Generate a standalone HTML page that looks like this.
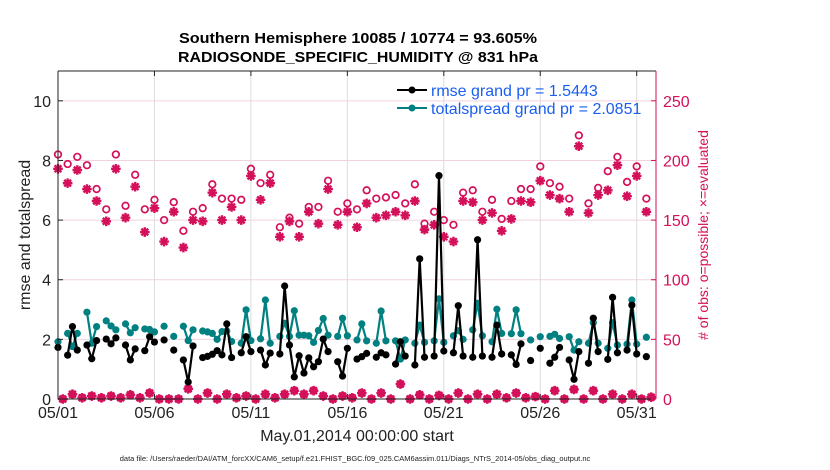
<!DOCTYPE html>
<html><head><meta charset="utf-8"><style>
html,body{margin:0;padding:0;background:#fff;}
svg{display:block;font-family:"Liberation Sans",Arial,sans-serif;}
</style></head><body>
<svg id="chart" width="830" height="470" viewBox="0 0 830 470" xmlns="http://www.w3.org/2000/svg">
<g>
<text x="358" y="43" text-anchor="middle" font-size="15" font-weight="bold" textLength="358" lengthAdjust="spacingAndGlyphs">Southern Hemisphere 10085 / 10774 = 93.605%</text>
<text x="358" y="62" text-anchor="middle" font-size="15" font-weight="bold" textLength="360" lengthAdjust="spacingAndGlyphs">RADIOSONDE_SPECIFIC_HUMIDITY @ 831 hPa</text>
</g>
<g id="grid"></g>
<g id="marks"></g>
<g id="axes"></g>
<text x="357" y="441" text-anchor="middle" font-size="16" fill="#222">May.01,2014 00:00:00 start</text>
<text transform="translate(30,235) rotate(-90)" text-anchor="middle" font-size="16" fill="#222">rmse and totalspread</text>
<text transform="translate(708,235) rotate(-90)" text-anchor="middle" font-size="14" fill="#d4105a"># of obs: o=possible; ×=evaluated</text>
<text x="355" y="461" text-anchor="middle" font-size="7.5" fill="#222">data file: /Users/raeder/DAI/ATM_forcXX/CAM6_setup/f.e21.FHIST_BGC.f09_025.CAM6assim.011/Diags_NTrS_2014-05/obs_diag_output.nc</text>
<g>
<line x1="397" y1="90" x2="427" y2="90" stroke="#000" stroke-width="2"/>
<circle cx="412" cy="90" r="3.5" fill="#000"/>
<text x="431" y="96" font-size="16" fill="#1a5ff0">rmse grand pr = 1.5443</text>
<line x1="397" y1="108" x2="427" y2="108" stroke="#008080" stroke-width="2"/>
<circle cx="412" cy="108" r="3.5" fill="#008080"/>
<text x="431" y="114" font-size="16" fill="#1a5ff0">totalspread grand pr = 2.0851</text>
</g>
</svg>
<script>
var n=null;
var rmse=[1.73,n,1.47,2.43,1.64,n,1.81,1.35,1.96,n,2.01,1.85,2.05,n,1.81,1.31,1.68,n,1.62,2.09,1.91,n,1.98,n,1.64,n,1.31,0.57,1.78,n,1.39,1.43,1.5,1.62,1.48,2.52,1.39,n,1.55,2.09,1.59,n,1.64,1.14,1.54,n,1.51,3.79,1.81,0.74,1.45,0.87,1.38,1.08,1.25,2.01,1.59,n,1.25,0.77,1.7,n,1.34,1.42,1.53,n,1.4,1.55,1.48,n,1.17,1.92,1.44,n,1.14,4.7,1.4,n,1.44,7.49,1.61,n,1.55,3.13,1.44,n,1.4,5.34,1.44,n,1.4,2.48,1.51,n,1.48,1.16,1.85,n,1.29,n,1.7,n,1.2,1.4,1.73,n,1.31,0.66,1.59,n,1.2,2.71,1.59,n,1.33,3.41,1.55,n,1.64,3.15,1.51,n,1.42,n,n];
var spread=[1.92,n,2.2,1.76,2.2,n,2.91,1.87,2.43,n,2.62,2.45,2.32,n,2.52,2.22,2.39,n,2.35,2.33,2.25,n,2.44,n,2.1,n,2.44,1.96,2.32,n,2.28,2.25,2.2,2.0,2.26,2.28,1.93,n,1.87,2.99,1.96,n,2.02,3.32,1.87,n,2.1,2.54,2.1,2.96,2.14,2.14,2.12,1.9,2.3,2.7,2.14,n,2.1,2.71,2.12,n,1.98,2.52,1.95,n,1.87,2.95,1.95,n,1.95,1.34,1.98,n,1.87,2.48,1.9,n,1.95,3.36,1.9,n,2.12,2.29,2.0,n,2.32,3.21,2.12,n,1.92,3.01,2.2,n,2.19,2.99,2.19,n,1.98,n,2.09,n,2.1,2.17,2.03,n,2.09,1.64,1.92,n,1.87,2.56,1.87,n,1.7,2.56,1.81,n,1.84,3.32,1.84,n,2.07,n,n];
var possibleEven=[205,197,203,196,176,159,205,162,188,159,167,150,165,141,157,160,180,168,168,167,193,181,188,144,152,147,161,161,183,157,164,159,175,168,169,171,164,180,147,157,150,146,173,175,157,167,151,166,176,176,195,181,178,168,221,164,177,191,203,182,195,168,n];
var evaluatedEven=[193,181,192,176,166,149,193,152,178,140,160,132,157,127,150,149,173,150,161,150,187,167,181,136,149,136,157,147,176,146,157,144,164,152,154,157,154,166,142,146,136,132,166,165,150,156,141,151,166,165,183,171,168,157,212,156,171,175,196,170,187,157,n];
var lowOdd=[0,4,1,2.5,1,2.5,1,3.5,1,5,0,0,0,8.5,0,5,0,4,1,2.5,0,4,1,4,7,4,7,2.5,0,2.5,1,5,0,5,0,12.5,0,3.5,0,3,0,5,0,4,0,4,1,5,1,2,0,7,0,8,0,7,0,4,0,4,0,1.5];
var dayTicks=[0,5,10,15,20,25,30];
var dayLabels=["05/01","05/06","05/11","05/16","05/21","05/26","05/31"];
var leftTicks=[0,2,4,6,8,10];
var rightTicks=[0,50,100,150,200,250];

var X0=58,X1=656,Y0=399,Y1=71;
function xs(i){return X0+(i/4)/31*(X1-X0);}
function xd(d){return X0+d/31*(X1-X0);}
function yl(v){return Y0-v/11*(Y0-Y1);}
function yr(v){return Y0-v/275*(Y0-Y1);}
var NS="http://www.w3.org/2000/svg";
function mk(tag,attrs,parent){var e=document.createElementNS(NS,tag);for(var k in attrs)e.setAttribute(k,attrs[k]);parent.appendChild(e);return e;}
var grid=document.getElementById('grid'),marks=document.getElementById('marks'),axes=document.getElementById('axes');

rightTicks.forEach(function(t){if(t===0)return;
var g=mk('line',{x1:X0,x2:X1,y1:yr(t),y2:yr(t),stroke:'#f1d3de','stroke-width':1},grid);

});
dayTicks.forEach(function(d){
var g=mk('line',{x1:xd(d),x2:xd(d),y1:Y1,y2:Y0,stroke:'#dcdcdc','stroke-width':1},grid);

});

var possible=[],evaluated=[];
for(var i=0;i<125;i++){
 if(i%2===0){possible.push(possibleEven[i/2]);evaluated.push(evaluatedEven[i/2]);}
 else{possible.push(lowOdd[(i-1)/2]);evaluated.push(lowOdd[(i-1)/2]);}
}
var PINK='#d4105a';
evaluated.forEach(function(v,i){if(v==null)return;
 var cx=xs(i),cy=yr(v),r=4.8,d='';
 for(var a=0;a<4;a++){var an=a*Math.PI/4;d+='M'+(cx-r*Math.cos(an))+' '+(cy-r*Math.sin(an))+'L'+(cx+r*Math.cos(an))+' '+(cy+r*Math.sin(an));}
 var p=mk('path',{d:d,stroke:PINK,'stroke-width':2.4,fill:'none'},marks);
 
 });
possible.forEach(function(v,i){if(v==null)return;
 var c=mk('circle',{cx:xs(i),cy:yr(v),r:3.3,fill:'none',stroke:PINK,'stroke-width':1.7},marks);
 
 });

function series(arr,col,name){
 var segs=[],cur=[];
 arr.forEach(function(v,i){if(v==null){if(cur.length)segs.push(cur);cur=[];}else cur.push([xs(i),yl(v)]);});
 if(cur.length)segs.push(cur);
 segs.forEach(function(s){if(s.length<2)return;
  var pl=mk('polyline',{points:s.map(function(p){return p.join(',');}).join(' '),fill:'none',stroke:col,'stroke-width':2.2,'stroke-linejoin':'round'},marks);
  
  });
 arr.forEach(function(v,i){if(v==null)return;
  var c=mk('circle',{cx:xs(i),cy:yl(v),r:3.6,fill:col},marks);
  
  });
}
series(spread,'#008080','totalspread');
series(rmse,'#000000','rmse');

var a1=mk('path',{d:'M'+X0+' '+Y1+'L'+X0+' '+Y0+'L'+X1+' '+Y0+'M'+X0+' '+Y1+'L'+X1+' '+Y1,stroke:'#222','stroke-width':1,fill:'none'},axes);


var a2=mk('line',{x1:X1,x2:X1,y1:Y1,y2:Y0,stroke:PINK,'stroke-width':1},axes);


leftTicks.forEach(function(t){
 mk('line',{x1:X0,x2:X0+5,y1:yl(t),y2:yl(t),stroke:'#222'},axes);
 var tx=mk('text',{x:X0-7,y:yl(t)+6,'text-anchor':'end','font-size':16,fill:'#222'},axes);
 tx.textContent=t;
 
 });
rightTicks.forEach(function(t){
 mk('line',{x1:X1-5,x2:X1,y1:yr(t),y2:yr(t),stroke:PINK},axes);
 var tx=mk('text',{x:X1+7,y:yr(t)+6,'font-size':16,fill:PINK},axes);
 tx.textContent=t;
 
 });
dayTicks.forEach(function(d,k){
 mk('line',{x1:xd(d),x2:xd(d),y1:Y0,y2:Y0-5,stroke:'#222'},axes);
 mk('line',{x1:xd(d),x2:xd(d),y1:Y1,y2:Y1+5,stroke:'#222'},axes);
 var tx=mk('text',{x:xd(d),y:Y0+19,'text-anchor':'middle','font-size':16,fill:'#222'},axes);
 tx.textContent=dayLabels[k];
 
 });
</script>
</body></html>
